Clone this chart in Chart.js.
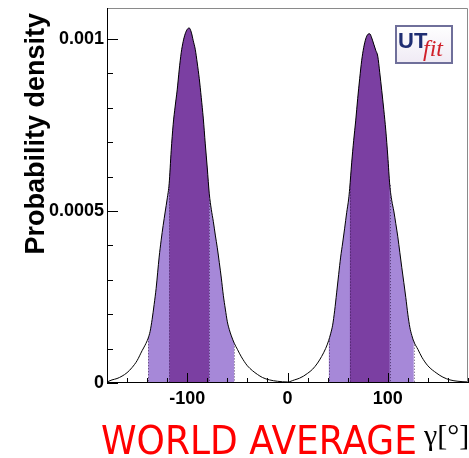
<!DOCTYPE html>
<html>
<head>
<meta charset="utf-8">
<script src="https://cdn.jsdelivr.net/npm/chart.js@4/dist/chart.umd.min.js"></script>
<style>
  html, body { margin: 0; padding: 0; background: #fff; }
  #wrap { width: 469px; height: 458px; }
</style>
</head>
<body>
<div id="wrap"><canvas id="chart-gamma"></canvas></div>
<script>
// =====================
// gamma p.d.f.
// =====================

// gamma [deg]
const gammaDeg = [
  -180, -175, -170, -165, -160, -155, -150, -145, -142, -139, -137, -135, -133, -131,
  -128, -126, -124, -122, -120, -118, -116, -114, -112, -110, -108, -106, -104, -102,
  -100, -98, -96, -94, -92, -90, -88, -86, -84, -82, -80, -78, -76, -74, -72, -70,
  -68, -66, -64, -62, -60, -58, -56, -53, -50, -46, -40, -35, -30, -25, -18, -10,
  0, 7, 12, 16, 20, 25, 30, 34, 38, 41, 43, 45, 47, 49, 51, 53, 55, 57, 59, 61,
  62, 64, 66, 68, 70, 72, 74, 76, 78, 80, 82, 84, 86, 88, 90, 92, 94, 96, 98, 100,
  102, 104, 106, 108, 110, 112, 114, 116, 118, 120, 122, 124, 126, 130, 134, 140,
  149, 155, 162, 170, 180
];

// probability density
const density = [
  0.000003, 0.000009, 0.000013, 0.000020, 0.000030, 0.000045, 0.000065, 0.000094, 0.000110, 0.000130, 0.000150, 0.000185, 0.000228, 0.000275,
  0.000366, 0.000415, 0.000458, 0.000497, 0.000535, 0.000580, 0.000675, 0.000752, 0.000805, 0.000852, 0.000910, 0.000960, 0.000993, 0.001015,
  0.001028, 0.001032, 0.001020, 0.000995, 0.000970, 0.000930, 0.000885, 0.000830, 0.000770, 0.000695, 0.000625, 0.000550, 0.000505, 0.000470, 0.000430, 0.000393,
  0.000350, 0.000305, 0.000255, 0.000215, 0.000178, 0.000155, 0.000137, 0.000115, 0.000098, 0.000076, 0.000050, 0.000036, 0.000025, 0.000016, 0.000009, 0.000005,
  0.000003, 0.000009, 0.000014, 0.000020, 0.000028, 0.000040, 0.000058, 0.000077, 0.000100, 0.000123, 0.000143, 0.000168, 0.000210, 0.000262, 0.000315, 0.000366, 0.000407, 0.000450, 0.000495, 0.000535,
  0.000565, 0.000640, 0.000705, 0.000762, 0.000827, 0.000885, 0.000938, 0.000975, 0.001000, 0.001013, 0.001015, 0.001003, 0.000985, 0.000967, 0.000950, 0.000902, 0.000850, 0.000795, 0.000735, 0.000660,
  0.000575, 0.000530, 0.000500, 0.000463, 0.000425, 0.000380, 0.000335, 0.000292, 0.000248, 0.000200, 0.000162, 0.000138, 0.000120, 0.000098, 0.000075, 0.000050,
  0.000028, 0.000017, 0.000009, 0.000005, 0.000003
];

// 68% and 95% probability ranges
const range68 = [[-118, -78], [62, 102]];
const range95 = [[-139, -53], [41, 126]];

// axes
const xMin = -180, xMax = 180;
const yMin = 0, yMax = 0.00109;
const xTicks = [-100, 0, 100];
const xTickLabels = ['-100', '0', '100'];
const yTicks = [0, 0.0005, 0.001];
const yTickLabels = ['0', '0.0005', '0.001'];
const xMinorStep = 20;
const yMinorStep = 0.0001;

const yTitle = 'Probability density';
const xTitle = 'γ[°]';
const caption = 'WORLD AVERAGE';

const DARK = '#7b3fa2';
const LIGHT = '#a688d8';

const points = gammaDeg.map((x, i) => ({ x: x, y: density[i] }));

function bandData(lo, hi) {
  return points.filter(p => p.x >= lo && p.x <= hi);
}

// order: higher value is drawn first (underneath)
function bandDataset(range, color, order) {
  return {
    data: bandData(range[0], range[1]),
    borderWidth: 0,
    pointRadius: 0,
    backgroundColor: color,
    fill: 'origin',
    order: order,
    cubicInterpolationMode: 'monotone'
  };
}

const datasets = [];
range95.forEach(r => datasets.push(bandDataset(r, LIGHT, 3)));
range68.forEach(r => datasets.push(bandDataset(r, DARK, 2)));
datasets.push({
  data: points,
  borderColor: '#000',
  borderWidth: 1,
  pointRadius: 0,
  fill: false,
  order: 1,
  cubicInterpolationMode: 'monotone'
});

const rootFrame = {
  id: 'rootFrame',
  afterDatasetsDraw(chart) {
    const { ctx, chartArea: a, scales: { x, y } } = chart;
    ctx.save();

    // dotted edges of the ranges
    ctx.strokeStyle = 'rgba(45,20,70,0.75)';
    ctx.lineWidth = 1;
    ctx.setLineDash([1, 2]);
    range68.concat(range95).forEach(r => {
      r.forEach(v => {
        const idx = gammaDeg.indexOf(v);
        const px = Math.round(x.getPixelForValue(v)) + 0.5;
        ctx.beginPath();
        ctx.moveTo(px, y.getPixelForValue(density[idx]));
        ctx.lineTo(px, a.bottom);
        ctx.stroke();
      });
    });
    ctx.setLineDash([]);

    // frame
    ctx.strokeStyle = '#8a8a8a';
    ctx.beginPath();
    ctx.moveTo(a.left, a.top + 0.5);
    ctx.lineTo(a.right - 0.5, a.top + 0.5);
    ctx.lineTo(a.right - 0.5, a.bottom);
    ctx.stroke();
    ctx.strokeStyle = '#000';
    ctx.beginPath();
    ctx.moveTo(a.left + 0.5, a.top);
    ctx.lineTo(a.left + 0.5, a.bottom - 0.5);
    ctx.lineTo(a.right, a.bottom - 0.5);
    ctx.stroke();

    // inward ticks
    ctx.beginPath();
    for (let v = xMin; v <= xMax; v += xMinorStep) {
      const px = Math.round(x.getPixelForValue(v)) + 0.5;
      const len = xTicks.includes(v) ? 10 : 5;
      ctx.moveTo(px, a.bottom);
      ctx.lineTo(px, a.bottom - len);
    }
    for (let k = 0; yMin + k * yMinorStep <= yMax; k++) {
      const v = yMin + k * yMinorStep;
      const py = Math.round(y.getPixelForValue(v)) + 0.5;
      const len = (k % 5 === 0) ? 11 : 6;
      ctx.moveTo(a.left, py);
      ctx.lineTo(a.left + len, py);
    }
    ctx.stroke();
    ctx.restore();
  },
  afterDraw(chart) {
    const { ctx } = chart;
    ctx.save();

    // y title, aligned to the top end as in ROOT
    ctx.translate(44, 13);
    ctx.rotate(-Math.PI / 2);
    ctx.font = 'bold 27px "Liberation Sans", Arial, sans-serif';
    ctx.fillStyle = '#000';
    ctx.textAlign = 'right';
    ctx.textBaseline = 'alphabetic';
    ctx.fillText(yTitle, 0, 0);
    ctx.restore();

    // caption
    ctx.save();
    ctx.font = '39px "Comic Sans MS", "DejaVu Sans", sans-serif';
    ctx.fillStyle = '#ff0000';
    const w = ctx.measureText(caption).width;
    ctx.translate(101, 454);
    ctx.scale(316 / w, 1);
    ctx.fillText(caption, 0, 0);
    ctx.restore();

    // gamma [deg]
    ctx.save();
    ctx.fillStyle = '#000';
    ctx.font = '30px "Liberation Serif", serif';
    ctx.fillText(xTitle, 424, 445);
    ctx.restore();

    // UTfit logo
    ctx.save();
    const bx = 395, by = 25, bw = 58, bh = 39;
    const g = ctx.createLinearGradient(bx, by, bx, by + bh);
    g.addColorStop(0, '#ffffff');
    g.addColorStop(1, '#efeaf4');
    ctx.fillStyle = g;
    ctx.fillRect(bx, by, bw, bh);
    ctx.strokeStyle = '#6f6f9a';
    ctx.lineWidth = 2;
    ctx.strokeRect(bx + 1, by + 1, bw - 2, bh - 2);
    ctx.fillStyle = '#1f2d72';
    ctx.font = 'bold 22px "Liberation Sans", Arial, sans-serif';
    ctx.fillText('UT', bx + 3, by + 23);
    ctx.fillStyle = '#d0202a';
    ctx.font = 'italic 24px "Liberation Serif", serif';
    ctx.fillText('fit', bx + 28, by + 31);
    ctx.restore();
  }
};

Chart.defaults.font.family = '"Liberation Sans", Arial, sans-serif';
Chart.defaults.color = '#000';

new Chart(document.getElementById('chart-gamma'), {
  type: 'line',
  data: { datasets: datasets },
  options: {
    responsive: true,
    maintainAspectRatio: false,
    animation: false,
    layout: { padding: { left: 0, right: 1, top: 8, bottom: 0 } },
    plugins: { legend: { display: false }, tooltip: { enabled: false } },
    scales: {
      x: {
        type: 'linear',
        min: xMin,
        max: xMax,
        afterFit: s => { s.height = 75; s.paddingLeft = 0; s.paddingRight = 0; },
        afterBuildTicks: s => { s.ticks = xTicks.map(v => ({ value: v })); },
        grid: { display: false, drawTicks: false },
        border: { display: false },
        ticks: {
          padding: 5,
          maxRotation: 0,
          font: { size: 18, weight: 'bold' },
          callback: v => xTickLabels[xTicks.indexOf(v)]
        }
      },
      y: {
        type: 'linear',
        min: yMin,
        max: yMax,
        afterFit: s => { s.width = 107; s.paddingTop = 0; s.paddingBottom = 0; },
        afterBuildTicks: s => { s.ticks = yTicks.map(v => ({ value: v })); },
        grid: { display: false, drawTicks: false },
        border: { display: false },
        ticks: {
          padding: 3,
          font: { size: 18, weight: 'bold' },
          callback: v => yTickLabels[yTicks.indexOf(v)]
        }
      }
    }
  },
  plugins: [rootFrame]
});
</script>
</body>
</html>
